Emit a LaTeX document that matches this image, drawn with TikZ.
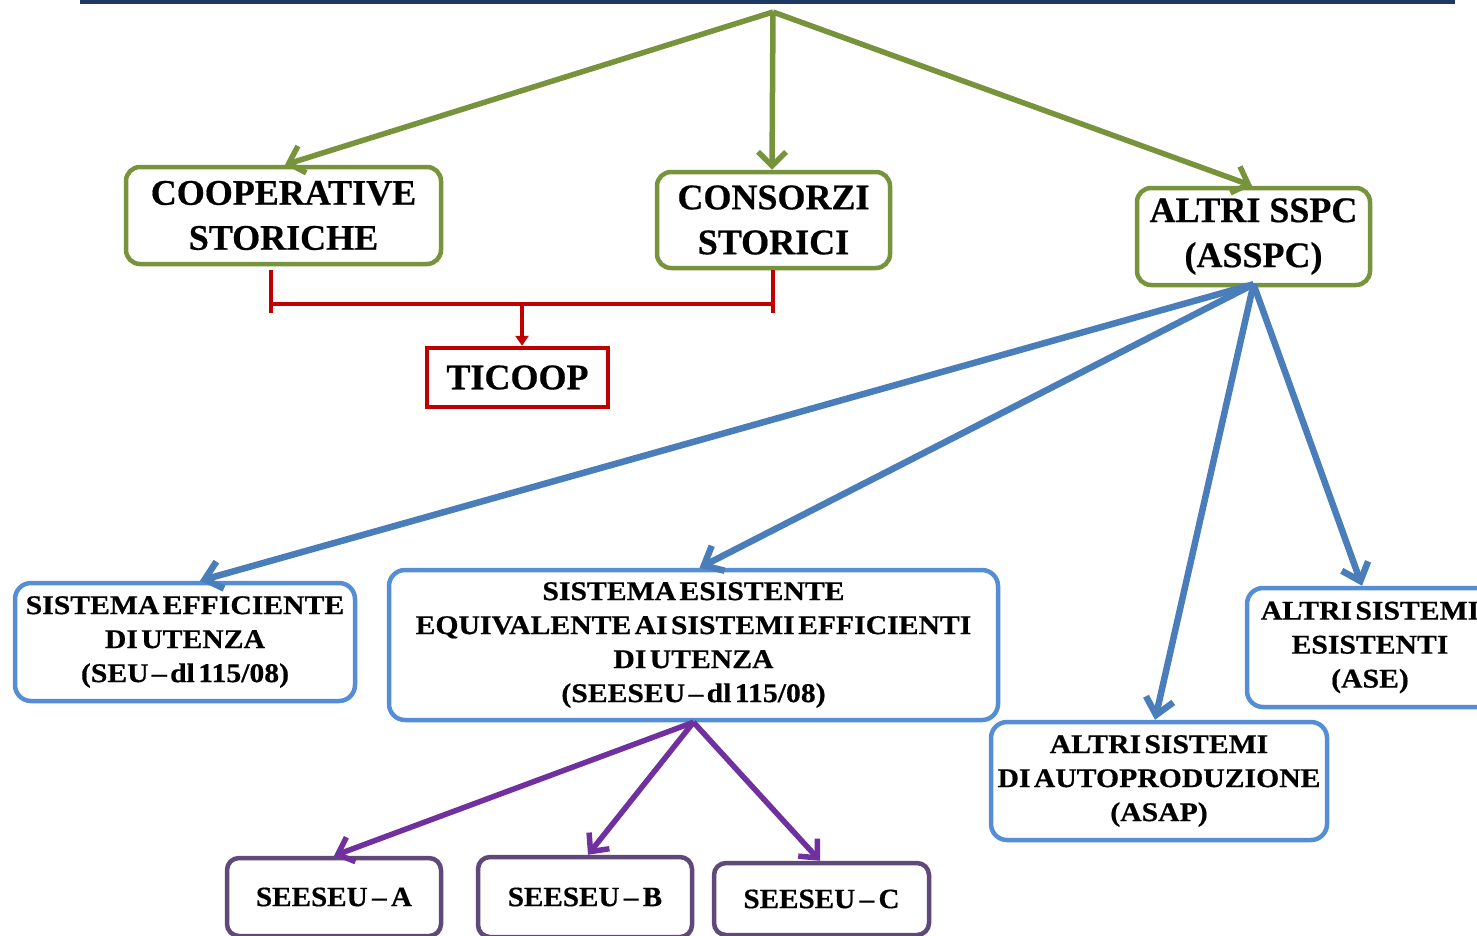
\documentclass[tikz,border=0pt]{standalone}
\usepackage{fontspec}
\setmainfont[BoldFeatures={FakeBold=0.5}]{Liberation Serif}
\newfontfamily\smf[FakeStretch=1.1,WordSpace=0.45,BoldFeatures={FakeBold=0.5}]{Liberation Serif}
\newfontfamily\pmf[FakeStretch=1.04,WordSpace=0.6,BoldFeatures={FakeBold=0.5}]{Liberation Serif}
\usetikzlibrary{arrows.meta,calc}
\definecolor{gr}{HTML}{77933C}
\definecolor{bla}{HTML}{4A7EBB}
\definecolor{blb}{HTML}{558ED5}
\definecolor{pua}{HTML}{7030A0}
\definecolor{pub}{HTML}{5F497A}
\definecolor{rd}{HTML}{C00000}
\definecolor{navy}{HTML}{1F3864}
\begin{document}
\begin{tikzpicture}[x=1pt,y=-1pt,
  gbox/.style={draw=gr,line width=4.5pt,rounded corners=14pt,fill=white,inner sep=0pt,align=center,
    font=\fontsize{36}{45}\selectfont\bfseries},
  rbox/.style={draw=rd,line width=4.5pt,fill=white,inner sep=0pt,align=center,
    font=\fontsize{36}{45}\selectfont\bfseries},
  bbox/.style={draw=blb,line width=4.5pt,rounded corners=16pt,fill=white,inner sep=0pt,align=center,
    font=\smf\fontsize{27}{34}\selectfont\bfseries},
  pbox/.style={draw=pub,line width=4.5pt,rounded corners=12pt,fill=white,inner sep=0pt,align=center,
    font=\pmf\fontsize{28}{34}\selectfont\bfseries},
  garrow/.style={draw=gr,line width=5.5pt,-{Straight Barb[length=14pt,width=28pt]}},
  barrow/.style={draw=bla,line width=6.5pt,-{Straight Barb[length=16pt,width=28pt]}},
  parrow/.style={draw=pua,line width=5.5pt,-{Straight Barb[length=14pt,width=26pt]}},
  rline/.style={draw=rd,line width=4pt},
  rarrow/.style={draw=rd,line width=4pt,-{Triangle[length=10pt,width=13pt]}}
]
\useasboundingbox (0,0) rectangle (1477,935);
\clip (0,0) rectangle (1477,935);

% top rule
\coordinate (ruleL) at (80,1.5);
\coordinate (ruleR) at (1455,1.5);
\draw[navy,line width=4pt] (ruleL) -- (ruleR);

% nodes
\node[gbox,minimum width=315pt,minimum height=97pt] (coop) at (283.5,215.5) {COOPERATIVE\\STORICHE};
\node[gbox,minimum width=233pt,minimum height=96pt] (cons) at (773.5,220) {CONSORZI\\STORICI};
\node[gbox,minimum width=233pt,minimum height=97pt] (altri) at (1253.5,236.5) {ALTRI SSPC\\(ASSPC)};
\node[rbox,minimum width=181pt,minimum height=59pt] (ticoop) at (517.5,377.5) {TICOOP};

\node[bbox,minimum width=340pt,minimum height=118pt] (seu) at (185,642) {SISTEMA EFFICIENTE\\DI UTENZA\\(SEU – dl 115/08)};
\node[bbox,minimum width=609pt,minimum height=150pt] (seeseu) at (693.5,645) {SISTEMA ESISTENTE\\EQUIVALENTE AI SISTEMI EFFICIENTI\\DI UTENZA\\(SEESEU – dl 115/08)};
\node[bbox,minimum width=246pt,minimum height=119pt] (ase) at (1370,647.5) {ALTRI SISTEMI\\ESISTENTI\\(ASE)};
\node[bbox,minimum width=336pt,minimum height=118pt] (asap) at (1159,781) {ALTRI SISTEMI\\DI AUTOPRODUZIONE\\(ASAP)};

\node[pbox,minimum width=214pt,minimum height=78pt] (sa) at (334,897) {SEESEU – A};
\node[pbox,minimum width=214pt,minimum height=80pt] (sb) at (585,897) {SEESEU – B};
\node[pbox,minimum width=215pt,minimum height=72pt] (sc) at (821.5,899) {SEESEU – C};

% green arrows
\coordinate (top) at (773,12);
\draw[garrow] (top) -- ([xshift=1.5pt]coop.north);
\draw[garrow] (top) -- ([xshift=-1.5pt]cons.north);
\draw[garrow] (top) -- ([xshift=-1.5pt]altri.north);

% red bracket
\coordinate (bl) at (271,304);
\coordinate (br) at (773,304);
\coordinate (bm) at (522,304);
\draw[rline] ($(bl)+(0,-34)$) -- ($(bl)+(0,9)$);
\draw[rline] ($(br)+(0,-34)$) -- ($(br)+(0,9)$);
\draw[rline] (bl) -- (br);
\draw[rarrow] (bm) -- ([xshift=4.5pt]ticoop.north);

% blue arrows
\coordinate (as) at ([yshift=3pt]altri.south);
\draw[barrow] (as) -- ([xshift=15pt]seu.north);
\draw[barrow] (as) -- ([xshift=6pt]seeseu.north);
\draw[barrow] (as) -- ([xshift=-4pt]asap.north);
\draw[barrow] (as) -- ([xshift=-8pt]ase.north);

% purple arrows
\coordinate (ss) at (seeseu.south);
\draw[parrow] (ss) -- (sa.north);
\draw[parrow] (ss) -- ([xshift=3pt]sb.north);
\draw[parrow] (ss) -- ([xshift=-1.5pt]sc.north);
\end{tikzpicture}
\end{document}
